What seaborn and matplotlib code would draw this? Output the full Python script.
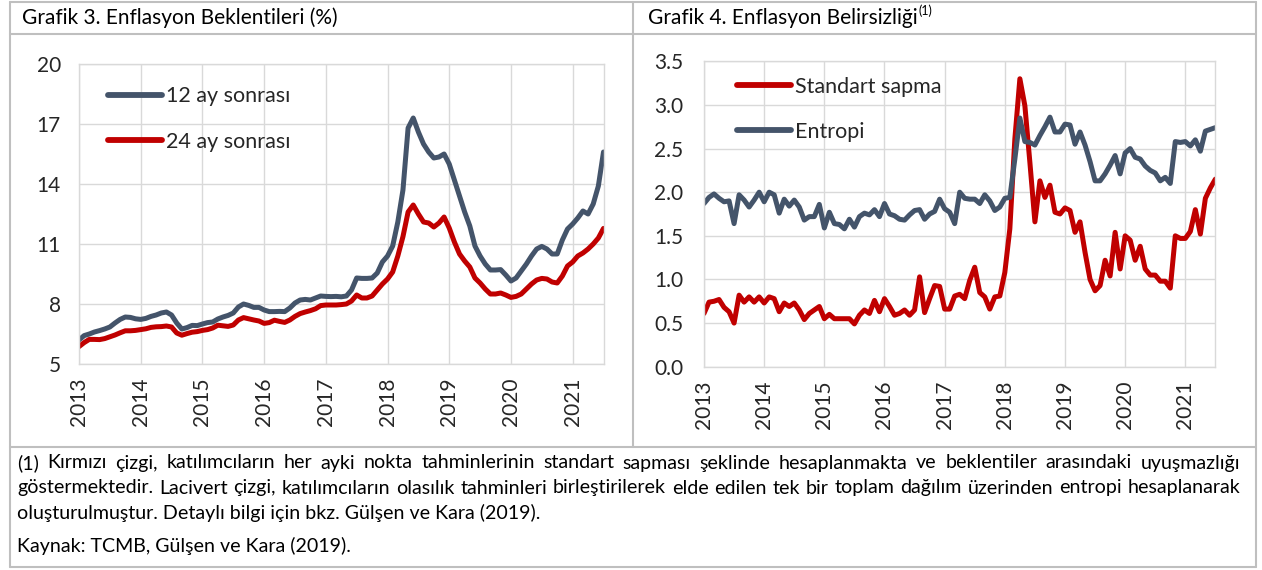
import numpy as np
import pandas as pd
import matplotlib
matplotlib.use("Agg")
import matplotlib.pyplot as plt
import seaborn as sns
from matplotlib.lines import Line2D
from matplotlib.ticker import FormatStrFormatter

# ---------------- data ----------------
dates = pd.date_range("2013-01-01", periods=103, freq="MS")

beklenti_12 = [6.2, 6.42, 6.5, 6.6, 6.67, 6.75, 6.85, 7.05, 7.23, 7.35, 7.33, 7.26,
               7.23, 7.28, 7.38, 7.45, 7.55, 7.6, 7.45, 7.05, 6.75, 6.82, 6.93, 6.92,
               7.0, 7.07, 7.1, 7.25, 7.35, 7.43, 7.55, 7.85, 8.0, 7.93, 7.83, 7.83,
               7.7, 7.62, 7.62, 7.63, 7.62, 7.8, 8.05, 8.2, 8.23, 8.2, 8.3, 8.4,
               8.38, 8.37, 8.38, 8.36, 8.4, 8.7, 9.3, 9.28, 9.28, 9.3, 9.55, 10.1,
               10.4, 10.9, 12.1, 13.7, 16.8, 17.3, 16.6, 16.0, 15.6, 15.3, 15.35, 15.5,
               15.0, 14.2, 13.4, 12.6, 11.9, 10.9, 10.4, 10.0, 9.7, 9.7, 9.72, 9.45,
               9.15, 9.3, 9.65, 10.0, 10.4, 10.75, 10.88, 10.75, 10.5, 10.5, 11.2, 11.75,
               12.0, 12.3, 12.65, 12.5, 13.0, 13.9, 15.6]

beklenti_24 = [5.87, 6.07, 6.23, 6.23, 6.22, 6.27, 6.36, 6.45, 6.56, 6.66, 6.66, 6.68,
               6.72, 6.76, 6.83, 6.86, 6.87, 6.9, 6.85, 6.55, 6.44, 6.52, 6.59, 6.62,
               6.68, 6.72, 6.8, 6.94, 6.91, 6.88, 6.95, 7.2, 7.32, 7.26, 7.2, 7.15,
               7.03, 7.07, 7.19, 7.13, 7.08, 7.2, 7.38, 7.52, 7.6, 7.67, 7.76, 7.92,
               7.95, 7.95, 7.95, 7.97, 8.0, 8.15, 8.45, 8.3, 8.3, 8.4, 8.7, 9.0,
               9.25, 9.6, 10.4, 11.37, 12.6, 12.95, 12.5, 12.1, 12.05, 11.85, 12.05, 12.35,
               11.8, 11.1, 10.5, 10.15, 9.85, 9.3, 9.05, 8.75, 8.5, 8.5, 8.55, 8.45,
               8.33, 8.38, 8.5, 8.75, 9.0, 9.2, 9.28, 9.25, 9.1, 9.05, 9.4, 9.9,
               10.1, 10.4, 10.55, 10.75, 11.0, 11.3, 11.78]

standart_sapma = [0.61, 0.74, 0.75, 0.77, 0.68, 0.63, 0.5, 0.82, 0.74, 0.8, 0.74, 0.8,
                  0.73, 0.8, 0.78, 0.63, 0.73, 0.69, 0.73, 0.65, 0.54, 0.61, 0.65, 0.69,
                  0.55, 0.6, 0.55, 0.55, 0.55, 0.55, 0.49, 0.59, 0.65, 0.61, 0.76, 0.63,
                  0.78, 0.69, 0.59, 0.61, 0.65, 0.59, 0.65, 1.03,
                  0.62, 0.78, 0.93, 0.92, 0.66, 0.66, 0.81, 0.83, 0.78, 0.99, 1.14, 0.85,
                  0.8, 0.66, 0.8, 0.81, 1.08, 1.58, 2.61, 3.3,
                  2.99, 2.34, 1.66, 2.13, 1.94, 2.08, 1.77, 1.75, 1.82, 1.79, 1.54, 1.66,
                  1.31, 1.0, 0.87, 0.93, 1.22, 1.04, 1.54, 1.12,
                  1.5, 1.45, 1.22, 1.38, 1.12, 1.05, 1.05, 0.98, 0.98, 0.9, 1.5, 1.47,
                  1.47, 1.55, 1.8, 1.52, 1.93, 2.05, 2.15]

entropi = [1.87, 1.94, 1.98, 1.93, 1.89, 1.9, 1.64, 1.97, 1.91, 1.83, 1.91, 2.0,
           1.89, 2.0, 1.97, 1.76, 1.92, 1.84, 1.91, 1.83, 1.68, 1.72, 1.72, 1.86,
           1.59, 1.77, 1.64, 1.63, 1.58, 1.69, 1.6, 1.72, 1.76, 1.74, 1.8, 1.72,
           1.87, 1.75, 1.73, 1.69, 1.68, 1.74, 1.79, 1.8,
           1.69, 1.75, 1.78, 1.92, 1.81, 1.77, 1.64, 2.0, 1.93, 1.92, 1.92, 1.87,
           1.97, 1.9, 1.79, 1.83, 1.93, 1.94, 2.38, 2.85,
           2.58, 2.57, 2.54, 2.65, 2.75, 2.86, 2.69, 2.69, 2.78, 2.77, 2.55, 2.69,
           2.54, 2.35, 2.13, 2.13, 2.21, 2.31, 2.42, 2.21,
           2.45, 2.5, 2.4, 2.38, 2.3, 2.25, 2.22, 2.13, 2.17, 2.1, 2.58, 2.57,
           2.58, 2.53, 2.6, 2.47, 2.7, 2.72, 2.74]

left_labels = ["12 ay sonrası", "24 ay sonrası"]
right_labels = ["Standart sapma", "Entropi"]
left_yticks = [5, 8, 11, 14, 17, 20]
right_yticks = [0.0, 0.5, 1.0, 1.5, 2.0, 2.5, 3.0, 3.5]
year_ticks = list(range(2013, 2022))

title_left = "Grafik 3. Enflasyon Beklentileri (%)"
title_right = "Grafik 4. Enflasyon Belirsizliği"
title_right_sup = "(1)"
footnote_lines = [
    "(1) Kırmızı çizgi, katılımcıların her ayki nokta tahminlerinin standart sapması şeklinde hesaplanmakta ve beklentiler arasındaki uyuşmazlığı",
    "göstermektedir. Lacivert çizgi, katılımcıların olasılık tahminleri birleştirilerek elde edilen tek bir toplam dağılım üzerinden entropi hesaplanarak",
    "oluşturulmuştur. Detaylı bilgi için bkz. Gülşen ve Kara (2019).",
    "Kaynak: TCMB, Gülşen ve Kara (2019).",
]

# ---------------- style ----------------
NAVY = "#44546A"
RED = "#C00000"
GRID = "#D9D9D9"
BORDER = "#BFBFBF"
TXT = "#262626"

sns.set_style("white")
plt.rcParams["font.family"] = ["Lato", "DejaVu Sans"]
plt.rcParams["lines.solid_joinstyle"] = "round"
plt.rcParams["lines.solid_capstyle"] = "round"

W, H = 1262, 570
fig = plt.figure(figsize=(W / 100, H / 100), dpi=100)
fig.patch.set_facecolor("white")


def fx(x):
    return x / W


def fy(y):
    return 1 - y / H


def axes_px(x0, y0, x1, y1):
    return fig.add_axes([fx(x0), fy(y1), (x1 - x0) / W, (y1 - y0) / H])


tyear = dates.year + (dates.month - 1) / 12.0
n = len(dates)

df_left = pd.DataFrame({
    "t": np.concatenate([tyear, tyear]),
    "deger": beklenti_12 + beklenti_24,
    "seri": [left_labels[0]] * n + [left_labels[1]] * n,
})
df_right = pd.DataFrame({
    "t": np.concatenate([tyear, tyear]),
    "deger": standart_sapma + entropi,
    "seri": [right_labels[0]] * n + [right_labels[1]] * n,
})

TICK_FS = 15
LEG_FS = 15.5
LW = 3.6

ax1 = axes_px(79, 64, 603.5, 364)
sns.lineplot(data=df_left, x="t", y="deger", hue="seri", hue_order=left_labels,
             palette={left_labels[0]: NAVY, left_labels[1]: RED},
             linewidth=LW, ax=ax1)

ax2 = axes_px(704, 61.3, 1215.4, 366.7)
sns.lineplot(data=df_right, x="t", y="deger", hue="seri", hue_order=right_labels,
             palette={right_labels[0]: RED, right_labels[1]: NAVY},
             linewidth=LW, ax=ax2)

for ax, yt, ylim, ypad in [(ax1, left_yticks, (5, 20), 13), (ax2, right_yticks, (0, 3.5), 15)]:
    ax.set_xlim(2013, 2021.5)
    ax.set_ylim(*ylim)
    ax.set_xticks(year_ticks)
    ax.set_xticklabels([str(y) for y in year_ticks], rotation=90)
    ax.set_yticks(yt)
    ax.grid(True, color=GRID, linewidth=1.0)
    ax.set_axisbelow(True)
    ax.set_xlabel("")
    ax.set_ylabel("")
    for s in ax.spines.values():
        s.set_color(GRID)
        s.set_linewidth(1.0)
    ax.tick_params(axis="both", length=0, labelsize=TICK_FS, colors=TXT)
    ax.tick_params(axis="x", pad=10)
    ax.tick_params(axis="y", pad=ypad)

ax2.yaxis.set_major_formatter(FormatStrFormatter("%.1f"))

for ax, anchor in [(ax1, (0.055, 0.925)), (ax2, (0.064, 0.950))]:
    h, l = ax.get_legend_handles_labels()
    leg = ax.legend(h, l, loc="upper left", bbox_to_anchor=anchor, frameon=False,
                    fontsize=LEG_FS, handlelength=2.5, handletextpad=0.2,
                    labelspacing=1.18, borderpad=0, borderaxespad=0)
    for line in leg.get_lines():
        line.set_linewidth(4.2)
    for t in leg.get_texts():
        t.set_color(TXT)

# ---------------- frame lines ----------------
def hline(y, x0, x1):
    fig.add_artist(Line2D([fx(x0), fx(x1)], [fy(y), fy(y)], color=BORDER, lw=1.5,
                          transform=fig.transFigure))


def vline(x, y0, y1):
    fig.add_artist(Line2D([fx(x), fx(x)], [fy(y0), fy(y1)], color=BORDER, lw=1.5,
                          transform=fig.transFigure))


hline(1.5, 10, 1256)
hline(34, 10, 1256)
hline(447, 10, 1256)
hline(567, 10, 1256)
vline(10, 1.5, 567)
vline(1256, 1.5, 567)
vline(633, 1.5, 447)

# ---------------- texts ----------------
renderer = fig.canvas.get_renderer()

TITLE_FS = 15
t1 = fig.text(fx(22), fy(18), title_left, fontsize=TITLE_FS, va="center", ha="left", color="black")
t2 = fig.text(fx(648), fy(18), title_right, fontsize=TITLE_FS, va="center",
              ha="left", color="black")
bb = t2.get_window_extent(renderer)
fig.text(bb.x1 / W + 0.5 / W, fy(11), title_right_sup, fontsize=TITLE_FS * 0.6,
         va="center", ha="left", color="black")

X0, X1 = 17, 1240
ys = [463, 488, 513, 546]


def width_px(s, fs):
    t = fig.text(0, 0, s, fontsize=fs)
    w = t.get_window_extent(renderer).width
    t.remove()
    return w


# font size: line 3 should end near x=548, but line 2 must still fit the box width
base = 12.0
fs_a = base * (548 - X0) / width_px(footnote_lines[2], base)
fs_b = base * (X1 - X0 - 20) / width_px(footnote_lines[1], base)
FN_FS = min(fs_a, fs_b)


def justified(text, y, x0, x1, fs):
    words = text.split(" ")
    arts = [fig.text(0, 0, w, fontsize=fs, va="center", ha="left", color="black") for w in words]
    widths = [a.get_window_extent(renderer).width for a in arts]
    gap = (x1 - x0 - sum(widths)) / (len(words) - 1)
    x = x0
    for a, w in zip(arts, widths):
        a.set_position((fx(x), fy(y)))
        x += w + gap


justified(footnote_lines[0], ys[0], X0, X1, FN_FS)
justified(footnote_lines[1], ys[1], X0, X1, FN_FS)
fig.text(fx(X0), fy(ys[2]), footnote_lines[2], fontsize=FN_FS, va="center", ha="left", color="black")
fig.text(fx(X0), fy(ys[3]), footnote_lines[3], fontsize=FN_FS, va="center", ha="left", color="black")

fig.savefig("out.png", dpi=100, facecolor="white")
